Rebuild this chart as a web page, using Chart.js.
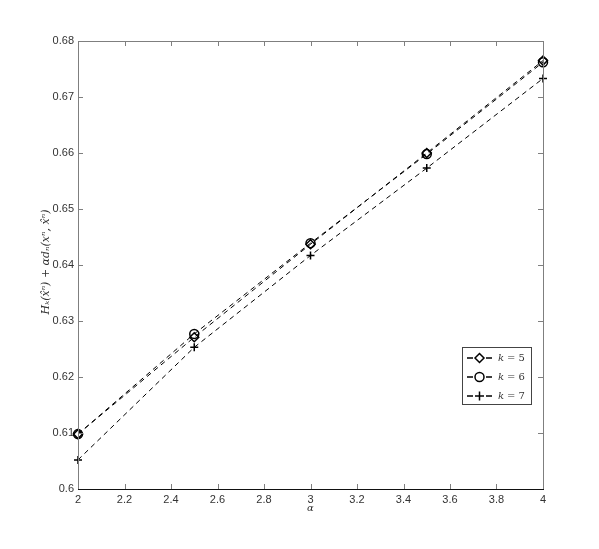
<!DOCTYPE html>
<html>
<head>
<meta charset="utf-8">
<script src="https://cdn.jsdelivr.net/npm/chart.js@4.4.1/dist/chart.umd.min.js"></script>
<style>
  html, body { margin: 0; padding: 0; background: #fff; }
  canvas { display: block; }
</style>
</head>
<body>
<canvas id="alphaChart" width="599" height="549"></canvas>
<script>
// ── Data ─────────────────────────────────────────────
const alphas = [2, 2.5, 3, 3.5, 4];
const costK5 = [0.6098, 0.6271, 0.6437, 0.6600, 0.6765];
const costK6 = [0.6098, 0.6277, 0.6439, 0.6598, 0.6762];
const costK7 = [0.6052, 0.6253, 0.6417, 0.6573, 0.6733];
const seriesLabels = ["k = 5", "k = 6", "k = 7"];
const xTicks = [2, 2.2, 2.4, 2.6, 2.8, 3, 3.2, 3.4, 3.6, 3.8, 4];
const yTicks = [0.6, 0.61, 0.62, 0.63, 0.64, 0.65, 0.66, 0.67, 0.68];

const STYLE = {
  ink:   "#000",
  frame: "#7f7f7f",
  label: "#333",
  font:  "'Liberation Sans', Arial, sans-serif",
  math:  "'DejaVu Serif', 'Liberation Serif', serif"
};
const markers = ["rectRot", "circle", "cross"];

const toPoints = ys => alphas.map((x, i) => ({ x, y: ys[i] }));

function dataset(label, ys, marker) {
  return {
    label,
    data: toPoints(ys),
    borderColor: STYLE.ink,
    backgroundColor: "rgba(0,0,0,0)",
    borderWidth: 1,
    borderDash: [5, 4],
    pointStyle: marker,
    pointRadius: marker === "cross" ? 4 : 4.5,
    pointBorderWidth: 1.5,
    pointBorderColor: STYLE.ink,
    pointBackgroundColor: "rgba(0,0,0,0)",
    clip: false,
    tension: 0
  };
}

// ── Frame, inner ticks, axis titles, legend ──────────
const framePlugin = {
  id: "frame",
  afterDraw(chart) {
    const { ctx, chartArea: a, scales } = chart;
    const xs = scales.x, ys = scales.y;
    ctx.save();
    ctx.lineWidth = 1;

    // inward ticks on all four sides
    ctx.strokeStyle = STYLE.frame;
    ctx.beginPath();
    xTicks.forEach(v => {
      const px = Math.round(xs.getPixelForValue(v)) + 0.5;
      ctx.moveTo(px, a.bottom); ctx.lineTo(px, a.bottom - 5);
      ctx.moveTo(px, a.top);    ctx.lineTo(px, a.top + 5);
    });
    yTicks.forEach(v => {
      const py = Math.round(ys.getPixelForValue(v)) + 0.5;
      ctx.moveTo(a.left, py);  ctx.lineTo(a.left + 5, py);
      ctx.moveTo(a.right, py); ctx.lineTo(a.right - 5, py);
    });
    ctx.stroke();

    // box
    ctx.strokeStyle = STYLE.frame;
    ctx.beginPath();
    ctx.moveTo(a.left + 0.5, a.bottom);
    ctx.lineTo(a.left + 0.5, a.top + 0.5);
    ctx.lineTo(a.right + 0.5, a.top + 0.5);
    ctx.lineTo(a.right + 0.5, a.bottom);
    ctx.stroke();
    ctx.strokeStyle = "#111";
    ctx.beginPath();
    ctx.moveTo(a.left, a.bottom + 0.5);
    ctx.lineTo(a.right + 1, a.bottom + 0.5);
    ctx.stroke();

    // axis titles
    ctx.fillStyle = STYLE.label;
    ctx.textAlign = "center";
    ctx.textBaseline = "middle";
    ctx.font = "italic 10px " + STYLE.math;
    ctx.fillText("α", (a.left + a.right) / 2, a.bottom + 19);
    ctx.save();
    ctx.translate(a.left - 32, (a.top + a.bottom) / 2 - 3);
    ctx.rotate(-Math.PI / 2);
    ctx.font = "italic 11px " + STYLE.math;
    ctx.fillText("Hₖ(x̂ⁿ) + αdₙ(xⁿ, x̂ⁿ)", 0, 0);
    ctx.restore();

    // legend box
    const lx = 462, ly = 347, lw = 69, lh = 57;
    ctx.fillStyle = "#fff";
    ctx.fillRect(lx, ly, lw, lh);
    ctx.strokeStyle = "#444";
    ctx.lineWidth = 1;
    ctx.strokeRect(lx + 0.5, ly + 0.5, lw, lh);
    chart.data.datasets.forEach((ds, i) => {
      const cy = ly + 11 + i * 19;
      ctx.strokeStyle = STYLE.ink;
      ctx.lineWidth = 1.5;
      ctx.setLineDash([]);
      ctx.beginPath();
      ctx.moveTo(lx + 5, cy);  ctx.lineTo(lx + 11, cy);
      ctx.moveTo(lx + 24, cy); ctx.lineTo(lx + 30, cy);
      ctx.stroke();
      ctx.fillStyle = "rgba(0,0,0,0)";
      ctx.strokeStyle = STYLE.ink;
      ctx.lineWidth = 1.5;
      Chart.helpers.drawPoint(ctx, {
        pointStyle: markers[i], radius: 4.5, borderWidth: 1.5
      }, lx + 17.5, cy);
      ctx.fillStyle = STYLE.label;
      ctx.textAlign = "left";
      ctx.font = "italic 10px " + STYLE.math;
      ctx.fillText("k", lx + 36, cy);
      ctx.font = "10px " + STYLE.math;
      ctx.fillText("= " + ds.label.split("= ")[1], lx + 45, cy);
    });
    ctx.restore();
  }
};

new Chart(document.getElementById("alphaChart"), {
  type: "line",
  data: {
    datasets: [
      dataset(seriesLabels[0], costK5, markers[0]),
      dataset(seriesLabels[1], costK6, markers[1]),
      dataset(seriesLabels[2], costK7, markers[2])
    ]
  },
  options: {
    responsive: false,
    animation: false,
    layout: { padding: { top: 41, right: 56, left: 0, bottom: 0 } },
    plugins: { legend: { display: false }, tooltip: { enabled: false } },
    scales: {
      x: {
        type: "linear",
        min: 2, max: 4,
        afterBuildTicks: s => { s.ticks = xTicks.map(v => ({ value: v })); },
        afterFit: s => { s.height = 60; },
        grid: { display: false, drawTicks: false },
        border: { display: false },
        ticks: {
          color: STYLE.label, padding: 4, maxRotation: 0,
          font: { family: STYLE.font, size: 11 },
          callback: v => String(Math.round(v * 10) / 10)
        }
      },
      y: {
        min: 0.6, max: 0.68,
        afterBuildTicks: s => { s.ticks = yTicks.map(v => ({ value: v })); },
        afterFit: s => { s.width = 78; },
        grid: { display: false, drawTicks: false },
        border: { display: false },
        ticks: {
          color: STYLE.label, padding: 4,
          font: { family: STYLE.font, size: 11 },
          callback: v => String(Math.round(v * 100) / 100)
        }
      }
    }
  },
  plugins: [framePlugin]
});
</script>
</body>
</html>
